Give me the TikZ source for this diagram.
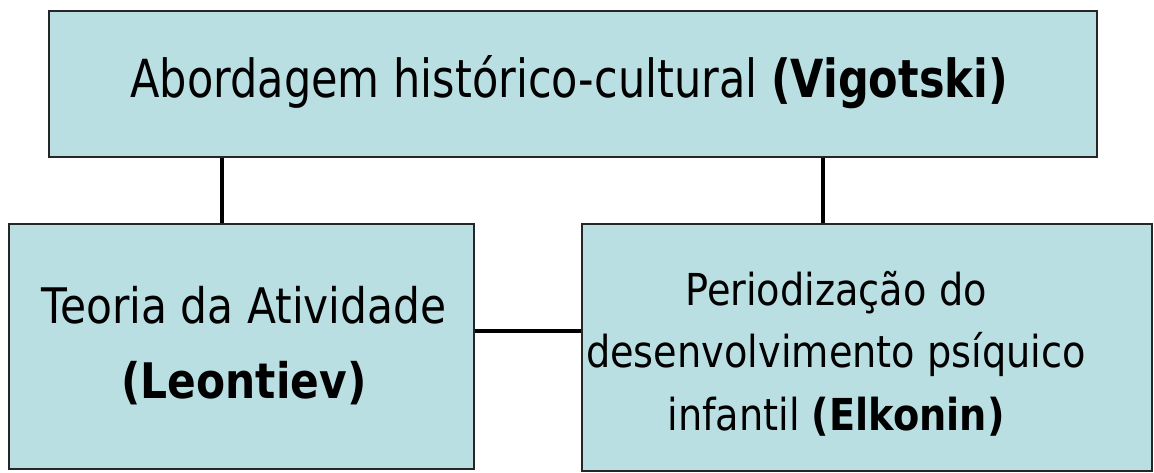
\documentclass[tikz,border=0pt]{standalone}
\usepackage{fontspec}
\setmainfont{DejaVu Sans}
\newfontfamily\topf[FakeStretch=0.82]{DejaVu Sans}
\newfontfamily\leftf[FakeStretch=0.865]{DejaVu Sans}
\newfontfamily\rightf[FakeStretch=0.87]{DejaVu Sans}
\definecolor{boxfill}{RGB}{185,223,227}
\begin{document}
\begin{tikzpicture}[x=1pt,y=-1pt,
  box/.style={draw=black!85, line width=1.8pt, fill=boxfill, rectangle, inner sep=0pt},
  conn/.style={draw=black, line width=3.2pt},
  lbl/.style={align=center, inner sep=0pt}]
\useasboundingbox (0,0) rectangle (1154,472);
\node[box, minimum width=1048, minimum height=146] (top) at (573,84) {};
\node[box, minimum width=465, minimum height=245] (left) at (241.5,346.5) {};
\node[box, minimum width=570, minimum height=247] (right) at (867,347.5) {};
\node[lbl, font=\topf\fontsize{52.5}{62}\selectfont, anchor=base] (toptext) at (569,97) {Abordagem histórico-cultural \textbf{(Vigotski)}};
\node[lbl, font=\leftf\fontsize{49}{75}\selectfont, anchor=base] (lefttext) at (244,398) {Teoria da Atividade\\\textbf{(Leontiev)}};
\node[lbl, font=\rightf\fontsize{44}{62.5}\selectfont, anchor=base] (righttext) at (836,430) {Periodização do\\desenvolvimento psíquico\\infantil \textbf{(Elkonin)}};
\draw[conn] (top.south -| 222,0) -- (left.north -| 222,0);
\draw[conn] (top.south -| 823,0) -- (right.north -| 823,0);
\draw[conn] (left.east |- 0,331) -- (right.west |- 0,331);
\end{tikzpicture}
\end{document}
